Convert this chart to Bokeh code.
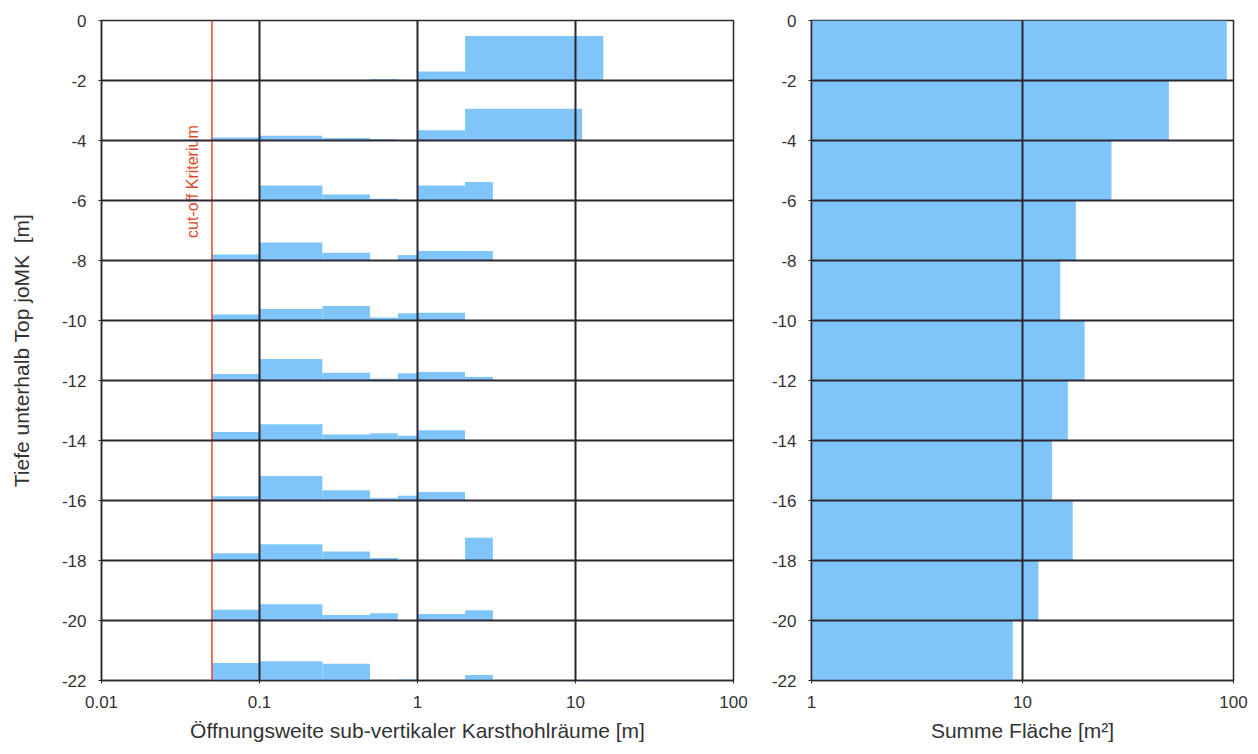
import math
from bokeh.plotting import figure
from bokeh.layouts import row
from bokeh.models import (ColumnDataSource, FixedTicker, CustomJSTickFormatter,
                          Span, Label)
from bokeh.embed import file_html
from bokeh.resources import INLINE

# ---------------------------------------------------------------- data
# upper edge of each 2 m depth interval below Top joMK [m]
depth_top = [0, -2, -4, -6, -8, -10, -12, -14, -16, -18, -20]
interval = 2.0

# opening-width classes of the sub-vertical karst voids [m]
class_lo = [0.05, 0.1, 0.25, 0.5, 0.75, 1.0, 2.0]
class_hi = [0.1, 0.25, 0.5, 0.75, 1.0, 2.0, 3.0]
# widest opening per interval (closes the last, open-ended class)
max_width = [15, 11, 3, 3, 3, 3, 3, 3, 3, 3, 3]

# relative frequency per class, % of the interval height
freq = [
    [0, 0, 0, 2, 0, 15, 74],
    [5, 8, 4, 2, 0, 17, 53],
    [0, 25, 10, 3, 0, 25, 31],
    [10, 30, 13, 0, 9, 16, 16],
    [10, 19, 24, 5, 12, 13, 0],
    [11, 36, 13, 3, 12, 14, 6],
    [14, 27, 10, 12, 8, 17, 0],
    [7, 41, 17, 4, 8, 14, 0],
    [12, 27, 15, 4, 0, 0, 38],
    [18, 27, 9, 12, 0, 11, 17],
    [29, 32, 28, 0, 2, 0, 9],
]

# summed void area per interval [m²]
area_sum = [93, 49.4, 26.4, 17.9, 15.1, 19.7, 16.4, 13.8, 17.3, 11.9, 9.0]

cutoff = 0.05

x_ticks_left = [0.01, 0.1, 1, 10, 100]
x_ticks_right = [1, 10, 100]
y_ticks = [0, -2, -4, -6, -8, -10, -12, -14, -16, -18, -20, -22]

# ---------------------------------------------------------------- styling
FONT = "Liberation Sans"
TXT = "#333333"
BAR = "#80c5f9"
GRID = "#2b2630"
RED = "#dc4a2a"

# histogram blocks, each standing on the lower edge of its interval
left, right, bottom, top = [], [], [], []
for i, d in enumerate(depth_top):
    base = d - interval
    for j, f in enumerate(freq[i]):
        if f <= 0:
            continue
        hi = max_width[i] if j == len(class_hi) - 1 else class_hi[j]
        left.append(class_lo[j])
        right.append(hi)
        bottom.append(base)
        top.append(base + f / 100.0 * interval)
hist_src = ColumnDataSource(dict(left=left, right=right, bottom=bottom, top=top))

area_src = ColumnDataSource(dict(
    left=[1.0] * len(area_sum),
    right=area_sum,
    top=depth_top,
    bottom=[d - interval for d in depth_top],
))

# plain number strings with an ASCII hyphen for negatives
tick_fmt = CustomJSTickFormatter(code="return String(tick)")


def style(p, xticks, xgrid):
    p.xaxis.ticker = FixedTicker(ticks=xticks)
    p.yaxis.ticker = FixedTicker(ticks=y_ticks)
    p.xaxis.formatter = tick_fmt
    p.yaxis.formatter = tick_fmt
    p.xgrid.ticker = FixedTicker(ticks=xgrid)
    p.ygrid.ticker = FixedTicker(ticks=y_ticks[1:-1])
    for g in (p.xgrid, p.ygrid):
        g.grid_line_color = GRID
        g.grid_line_width = 2
        g.grid_line_alpha = 1.0
        g.level = "overlay"
    for ax in (p.xaxis, p.yaxis):
        ax.axis_line_color = GRID
        ax.axis_line_width = 1.5
        ax.major_tick_line_color = GRID
        ax.major_tick_out = 3
        ax.major_tick_in = 0
        ax.minor_tick_line_color = None
        ax.major_label_text_font = FONT
        ax.major_label_text_font_size = "17px"
        ax.major_label_text_color = TXT
        ax.major_label_standoff = 12
        ax.axis_label_text_font = FONT
        ax.axis_label_text_font_size = "21px"
        ax.axis_label_text_font_style = "normal"
        ax.axis_label_text_color = TXT
        ax.axis_label_standoff = 8
    p.outline_line_color = GRID
    p.outline_line_width = 1.5
    p.background_fill_color = "white"
    p.border_fill_color = "white"


# ---------------------------------------------------------------- left panel
p1 = figure(x_axis_type="log", x_range=(0.01, 100), y_range=(-22, 0),
            frame_width=632, frame_height=660,
            min_border_left=101, min_border_right=27,
            min_border_top=20, min_border_bottom=74,
            output_backend="svg", toolbar_location=None)
p1.quad(left="left", right="right", bottom="bottom", top="top",
        source=hist_src, fill_color=BAR, line_color=None)
style(p1, x_ticks_left, [0.1, 1, 10])
p1.xaxis.axis_label = "Öffnungsweite sub-vertikaler Karsthohlräume [m]"
# non-breaking space keeps the double gap before the unit
p1.yaxis.axis_label = "Tiefe unterhalb Top joMK\u00a0 [m]"
p1.yaxis.axis_label_standoff = 26

p1.add_layout(Span(location=cutoff, dimension="height",
                   line_color=RED, line_width=1.5))
p1.add_layout(Label(x=cutoff * 0.75, y=-5.37, text="cut-off Kriterium",
                    angle=math.pi / 2, text_align="center",
                    text_baseline="middle", text_color=RED,
                    text_font=FONT, text_font_size="16px"))

# ---------------------------------------------------------------- right panel
p2 = figure(x_axis_type="log", x_range=(1, 100), y_range=(-22, 0),
            frame_width=422, frame_height=660,
            min_border_left=51, min_border_right=25,
            min_border_top=20, min_border_bottom=74,
            output_backend="svg", toolbar_location=None)
p2.quad(left="left", right="right", bottom="bottom", top="top",
        source=area_src, fill_color=BAR, line_color=None)
style(p2, x_ticks_right, [10])
p2.xaxis.axis_label = "Summe Fläche [m²]"

layout = row(p1, p2)

with open("out.html", "w") as fh:
    fh.write(file_html(layout, INLINE))
